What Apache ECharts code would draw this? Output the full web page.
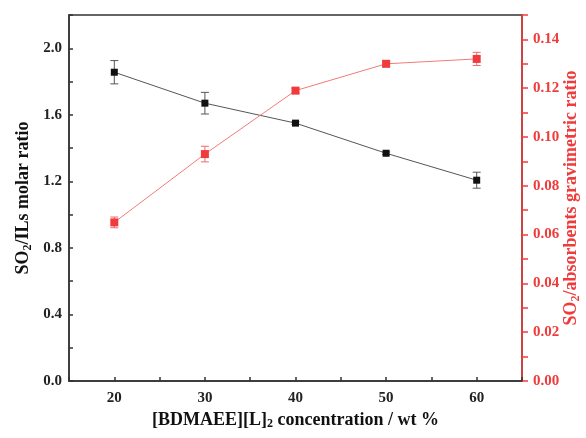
<!DOCTYPE html>
<html>
<head>
<meta charset="utf-8">
<script src="https://cdn.jsdelivr.net/npm/echarts@6/dist/echarts.min.js"></script>
<style>
  html, body { margin: 0; padding: 0; background: #fff; }
  #chart { width: 586px; height: 438px; }
</style>
</head>
<body>
<div id="chart"></div>
<script>
// concentration of [BDMAEE][L]2, wt %
const concentration = [20, 30, 40, 50, 60]
// SO2/ILs molar ratio (left axis) and its error
const molarRatio = [1.856, 1.670, 1.550, 1.369, 1.207]
const molarErr = [0.07, 0.065, 0.008, 0.008, 0.048]
// SO2/absorbents gravimetric ratio (right axis) and its error
const gravRatio = [0.065, 0.093, 0.119, 0.130, 0.132]
const gravErr = [0.0022, 0.0032, 0.001, 0.0012, 0.0027]

const black = '#111'
const red = '#ef3b3b'
const font = 'Liberation Serif'

const sub = { fontSize: 12, fontWeight: 'bold', fontFamily: font, padding: [9, 0, 0, 0] }

function errorItem(color) {
  return function(params, api) {
    const x = api.value(0)
    const lo = api.coord([x, api.value(1)])
    const hi = api.coord([x, api.value(2)])
    const w = 4
    const style = { stroke: color, lineWidth: 1 }
    return {
      type: 'group',
      children: [
        { type: 'line', shape: { x1: lo[0], y1: lo[1], x2: hi[0], y2: hi[1] }, style },
        { type: 'line', shape: { x1: lo[0] - w, y1: lo[1], x2: lo[0] + w, y2: lo[1] }, style },
        { type: 'line', shape: { x1: hi[0] - w, y1: hi[1], x2: hi[0] + w, y2: hi[1] }, style }
      ]
    }
  }
}

const chart = echarts.init(document.getElementById('chart'))
chart.setOption({
  animation: false,
  grid: {
    left: 69, right: 64, top: 15, bottom: 57,
    outerBoundsMode: 'none',
    show: true, borderColor: '#333', borderWidth: 1.5
  },
  xAxis: {
    type: 'value',
    min: 15, max: 65, interval: 5,
    name: '[BDMAEE][L]{sub|2} concentration / wt %',
    nameLocation: 'middle',
    nameGap: 25,
    nameTextStyle: {
      fontFamily: font, fontWeight: 'bold', fontSize: 18, color: '#111',
      rich: { sub }
    },
    axisLine: { show: true, lineStyle: { color: '#333', width: 1.5 } },
    axisTick: { show: true, inside: true, length: 4, lineStyle: { color: '#333', width: 1.5 } },
    axisLabel: {
      fontFamily: font, fontWeight: 'bold', fontSize: 15, color: '#222', margin: 10,
      formatter: v => (v % 10 === 0 && v > 15 && v < 65) ? String(v) : ''
    },
    splitLine: { show: false }
  },
  yAxis: [{
    type: 'value',
    min: 0, max: 2.2, interval: 0.2,
    name: 'SO{sub|2}/ILs molar ratio',
    nameLocation: 'middle',
    nameGap: 35,
    nameMoveOverlap: false,
    nameTextStyle: {
      fontFamily: font, fontWeight: 'bold', fontSize: 18, color: '#111',
      rich: { sub }
    },
    axisLine: { show: true, lineStyle: { color: '#333', width: 1.5 } },
    axisTick: { show: true, inside: true, length: 4, lineStyle: { color: '#333', width: 1.5 } },
    axisLabel: {
      fontFamily: font, fontWeight: 'bold', fontSize: 15, color: '#222', margin: 7,
      formatter: v => (Math.round(v * 10) % 4 === 0 && v < 2.1) ? v.toFixed(1) : ''
    },
    splitLine: { show: false }
  }, {
    type: 'value',
    position: 'right',
    min: 0, max: 0.15, interval: 0.01,
    name: 'SO{sub|2}/absorbents gravimetric ratio',
    nameLocation: 'middle',
    nameGap: 39,
    nameMoveOverlap: false,
    nameTextStyle: {
      fontFamily: font, fontWeight: 'bold', fontSize: 18, color: red,
      rich: { sub: Object.assign({}, sub, { color: red }) }
    },
    axisLine: { show: true, lineStyle: { color: red, width: 1.5 } },
    axisTick: { show: true, inside: false, length: 6, lineStyle: { color: red, width: 1.5 } },
    axisLabel: {
      fontFamily: font, fontWeight: 'bold', fontSize: 15, color: red, margin: 11,
      formatter: v => (Math.round(v * 100) % 2 === 0 && v < 0.145) ? v.toFixed(2) : ''
    },
    splitLine: { show: false }
  }],
  series: [{
    name: 'molar',
    type: 'line',
    yAxisIndex: 0,
    data: concentration.map((x, i) => [x, molarRatio[i]]),
    symbol: 'rect',
    symbolSize: 7,
    itemStyle: { color: black },
    lineStyle: { color: '#555', width: 1 },
    z: 3
  }, {
    name: 'molar err',
    type: 'custom',
    yAxisIndex: 0,
    renderItem: errorItem('#555'),
    data: concentration.map((x, i) => [x, molarRatio[i] - molarErr[i], molarRatio[i] + molarErr[i]]),
    z: 2
  }, {
    name: 'gravimetric',
    type: 'line',
    yAxisIndex: 1,
    data: concentration.map((x, i) => [x, gravRatio[i]]),
    symbol: 'rect',
    symbolSize: 8,
    itemStyle: { color: red },
    lineStyle: { color: '#f27a7a', width: 1 },
    z: 3
  }, {
    name: 'gravimetric err',
    type: 'custom',
    yAxisIndex: 1,
    renderItem: errorItem('#f06a6a'),
    data: concentration.map((x, i) => [x, gravRatio[i] - gravErr[i], gravRatio[i] + gravErr[i]]),
    z: 2
  }]
})
</script>
</body>
</html>
